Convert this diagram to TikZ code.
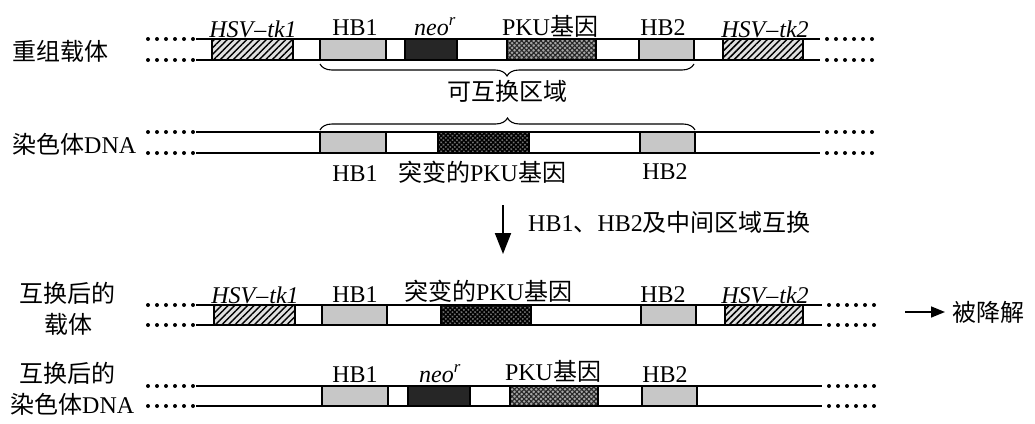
\documentclass[tikz,border=0pt]{standalone}
\usepackage{fontspec}
\setmainfont{Liberation Serif}
\newfontfamily\cjk{Noto Sans CJK SC}
\usetikzlibrary{patterns.meta,arrows.meta,decorations.pathreplacing}
\newcommand{\zh}[1]{{\cjk #1}}
\newcommand{\tkone}{\textit{HSV\kern1pt–\kern1pt tk1}}
\newcommand{\tktwo}{\textit{HSV\kern1pt–\kern1pt tk2}}
\newcommand{\neor}{\textit{neo}\textsuperscript{\textit{r}}}
\newcommand{\strandpair}[4]{% y-top, y-bot, x-start, x-end
  \draw[strand] (#3,#1) -- (#4,#1);
  \draw[strand] (#3,#2) -- (#4,#2);
  \foreach \i in {0,...,5}{
    \fill (148+9*\i,#1) circle (2pt);
    \fill (148+9*\i,#2) circle (2pt);
    \fill (#4+7+9*\i,#1) circle (2pt);
    \fill (#4+7+9*\i,#2) circle (2pt);
  }}
\tikzset{
  txt/.style={inner sep=0pt,font=\fontsize{24}{28}\selectfont},
  lbl/.style={txt,anchor=base},
  strand/.style={line width=1.3pt},
  tkbox/.style={draw,line width=1.3pt,preaction={fill=black!12},pattern={Lines[angle=45,distance=4.6pt,line width=1.5pt]},pattern color=black},
  hbbox/.style={draw,line width=1.3pt,fill=black!22},
  neobox/.style={draw,line width=1.3pt,fill=black!85},
  pkubox/.style={draw,line width=1.3pt,preaction={fill=black!35},pattern={Hatch[angle=45,distance=3.4pt,line width=1.1pt]},pattern color=black!85},
  mpkubox/.style={draw,line width=1.3pt,preaction={fill=black!55},pattern={Hatch[angle=45,distance=3.2pt,line width=1.4pt]},pattern color=black},
  brc/.style={decorate,decoration={brace,amplitude=12pt},line width=1.1pt},
}
\begin{document}
\begin{tikzpicture}[x=1pt,y=-1pt]
\useasboundingbox (0,0) rectangle (1035,423);
\fill[white] (0,0) rectangle (1035,423);
% ---------- row 1: recombinant vector
\strandpair{39}{60}{196}{820}
\draw[tkbox] (212,39) rectangle (293,60);
\draw[hbbox] (320,39) rectangle (386,60);
\draw[neobox] (405,39) rectangle (457,60);
\draw[pkubox] (507,39) rectangle (596,60);
\draw[hbbox] (639,39) rectangle (694,60);
\draw[tkbox] (723,39) rectangle (803,60);
\node[lbl] (r1tk1) at (253,37) {\tkone};
\node[lbl] (r1hb1) at (355,35) {HB1};
\node[lbl] (r1neo) at (435,35) {\neor};
\node[lbl] (r1pku) at (550,35) {PKU\zh{基因}};
\node[lbl] (r1hb2) at (663,35) {HB2};
\node[lbl] (r1tk2) at (765,37) {\tktwo};
\node[txt,anchor=west] (lab1) at (12,51) {\zh{重组载体}};
% brace under row 1
\draw[brc] (694,64) -- (320,64);
\node[txt] (swap) at (507,91) {\zh{可互换区域}};
% brace above row 2
\draw[brc] (320,130) -- (695,130);
% ---------- row 2: chromosome DNA
\strandpair{132}{153}{196}{820}
\draw[hbbox] (320,132) rectangle (386,153);
\draw[mpkubox] (438,132) rectangle (529,153);
\draw[hbbox] (640,132) rectangle (695,153);
\node[lbl] (r2hb1) at (355,181) {HB1};
\node[lbl] (r2pku) at (482,181) {\zh{突变的}PKU\zh{基因}};
\node[lbl] (r2hb2) at (665,179) {HB2};
\node[txt,anchor=west] (lab2) at (12,144) {\zh{染色体}DNA};
% ---------- exchange arrow
\coordinate (arT) at (503,205);
\coordinate (arB) at (503,254);
\draw[line width=2pt,-{Triangle[length=21pt,width=16pt]}] (arT) -- (arB);
\node[txt,anchor=base west] (arlbl) at (528,231) {HB1\zh{、}HB2\zh{及中间区域互换}};
% ---------- row 4: vector after exchange
\strandpair{305}{325}{196}{822}
\draw[tkbox] (214,305) rectangle (295,325);
\draw[hbbox] (322,305) rectangle (387,325);
\draw[mpkubox] (441,305) rectangle (531,325);
\draw[hbbox] (641,305) rectangle (696,325);
\draw[tkbox] (725,305) rectangle (803,325);
\node[lbl] (r4tk1) at (255,303) {\tkone};
\node[lbl] (r4hb1) at (355,302) {HB1};
\node[lbl] (r4pku) at (488,300) {\zh{突变的}PKU\zh{基因}};
\node[lbl] (r4hb2) at (663,302) {HB2};
\node[lbl] (r4tk2) at (765,303) {\tktwo};
\node[txt] (lab4a) at (67,293) {\zh{互换后的}};
\node[txt] (lab4b) at (68,324) {\zh{载体}};
\node[txt,anchor=west] (deg) at (952,312) {\zh{被降解}};
\coordinate (degS) at (905,312);
\draw[line width=1.5pt,-{Triangle[length=14pt,width=11pt]}] (degS) -- ([xshift=-7pt]deg.west);
% ---------- row 5: chromosome after exchange
\strandpair{386}{406}{196}{822}
\draw[hbbox] (322,386) rectangle (388,406);
\draw[neobox] (408,386) rectangle (470,406);
\draw[pkubox] (510,386) rectangle (598,406);
\draw[hbbox] (642,386) rectangle (697,406);
\node[lbl] (r5hb1) at (355,382) {HB1};
\node[lbl] (r5neo) at (440,382) {\neor};
\node[lbl] (r5pku) at (553,380) {PKU\zh{基因}};
\node[lbl] (r5hb2) at (665,382) {HB2};
\node[txt] (lab5a) at (67,373) {\zh{互换后的}};
\node[txt,anchor=west] (lab5b) at (10,404) {\zh{染色体}DNA};
\end{tikzpicture}
\end{document}
